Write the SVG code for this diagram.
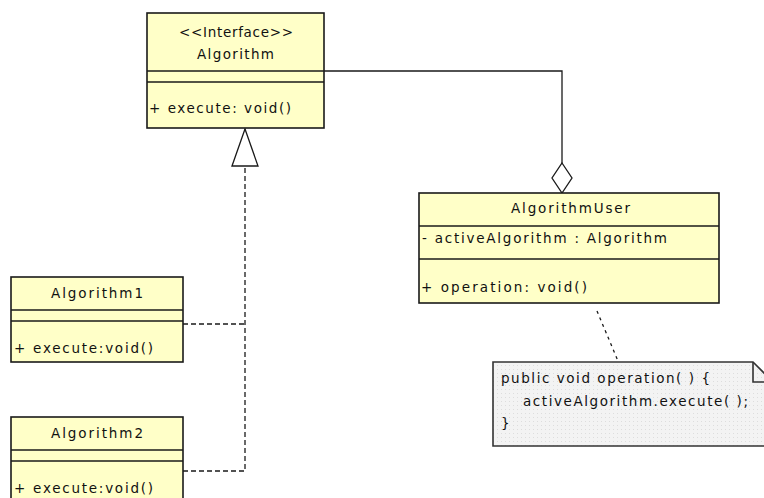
<svg xmlns="http://www.w3.org/2000/svg" width="764" height="498" viewBox="0 0 764 498">
<defs>
<style>
.box{fill:#ffffc8;stroke:#1a1a1a;stroke-width:1.6}
.sep{stroke:#1a1a1a;stroke-width:1.6}
text{font-family:"DejaVu Sans","Liberation Sans",sans-serif;font-size:13.5px;fill:#111}
.conn{fill:none;stroke:#1a1a1a;stroke-width:1.3}
.dash{stroke-dasharray:5,3}
.dot{stroke-dasharray:3,4}
.note{fill:url(#dots);stroke:#333;stroke-width:1.6}
.fold{fill:none;stroke:#333;stroke-width:1.6}
</style>
<pattern id="dots" width="4" height="4" patternUnits="userSpaceOnUse"><rect width="4" height="4" fill="#f3f3f3"/><rect x="1" y="1" width="1" height="1" fill="#dddddd"/></pattern>
<marker id="diamond" markerUnits="userSpaceOnUse" markerWidth="32" markerHeight="22" viewBox="0 0 32 22" refX="31" refY="11" orient="auto"><path d="M1,11 L16,1 L31,11 L16,21 Z" fill="#fff" stroke="#1a1a1a" stroke-width="1.3"/></marker>
<marker id="tri" markerUnits="userSpaceOnUse" markerWidth="40" markerHeight="28" viewBox="0 0 40 28" refX="38" refY="14" orient="auto"><path d="M1,1 L38,14 L1,27 Z" fill="#fff" stroke="#1a1a1a" stroke-width="1.3"/></marker>
</defs>
<rect width="764" height="498" fill="#fff"/>

<g id="connectors">
<path class="conn" d="M324,71 H562 V193" marker-end="url(#diamond)"/>
<path class="conn dash" d="M183,471 H245 V129" marker-end="url(#tri)"/>
<path class="conn dash" d="M183,324 H245"/>
<path class="conn dot" d="M597,311 L618,361"/>
</g>

<g id="Algorithm">
<rect class="box" x="147" y="13" width="177" height="115"/>
<line class="sep" x1="147" y1="71" x2="324" y2="71"/>
<line class="sep" x1="147" y1="82" x2="324" y2="82"/>
<text x="179" y="37" textLength="114" lengthAdjust="spacing">&lt;&lt;Interface&gt;&gt;</text>
<text x="197" y="59" textLength="77" lengthAdjust="spacing">Algorithm</text>
<text x="149" y="113" textLength="142" lengthAdjust="spacing">+ execute: void()</text>
</g>

<g id="Algorithm1">
<rect class="box" x="11" y="277" width="172" height="85"/>
<line class="sep" x1="11" y1="310" x2="183" y2="310"/>
<line class="sep" x1="11" y1="321" x2="183" y2="321"/>
<text x="51" y="298" textLength="92" lengthAdjust="spacing">Algorithm1</text>
<text x="14" y="353" textLength="139" lengthAdjust="spacing">+ execute:void()</text>
</g>

<g id="Algorithm2">
<rect class="box" x="11" y="417" width="172" height="90"/>
<line class="sep" x1="11" y1="450" x2="183" y2="450"/>
<line class="sep" x1="11" y1="461" x2="183" y2="461"/>
<text x="51" y="438" textLength="92" lengthAdjust="spacing">Algorithm2</text>
<text x="14" y="493" textLength="139" lengthAdjust="spacing">+ execute:void()</text>
</g>

<g id="AlgorithmUser">
<rect class="box" x="419" y="193" width="300" height="110"/>
<line class="sep" x1="419" y1="226" x2="719" y2="226"/>
<line class="sep" x1="419" y1="259" x2="719" y2="259"/>
<text x="511" y="213" textLength="119" lengthAdjust="spacing">AlgorithmUser</text>
<text x="422" y="243" textLength="245" lengthAdjust="spacing">- activeAlgorithm : Algorithm</text>
<text x="421" y="292" textLength="166" lengthAdjust="spacing">+ operation: void()</text>
</g>

<g id="note">
<path class="note" d="M493,362 H753 L773,382 V446 H493 Z"/>
<path class="fold" d="M753,362 V382 H773"/>
<text x="501" y="383" textLength="209" lengthAdjust="spacing">public void operation( ) {</text>
<text x="523" y="406" textLength="225" lengthAdjust="spacing">activeAlgorithm.execute( );</text>
<text x="501" y="428">}</text>
</g>
</svg>
